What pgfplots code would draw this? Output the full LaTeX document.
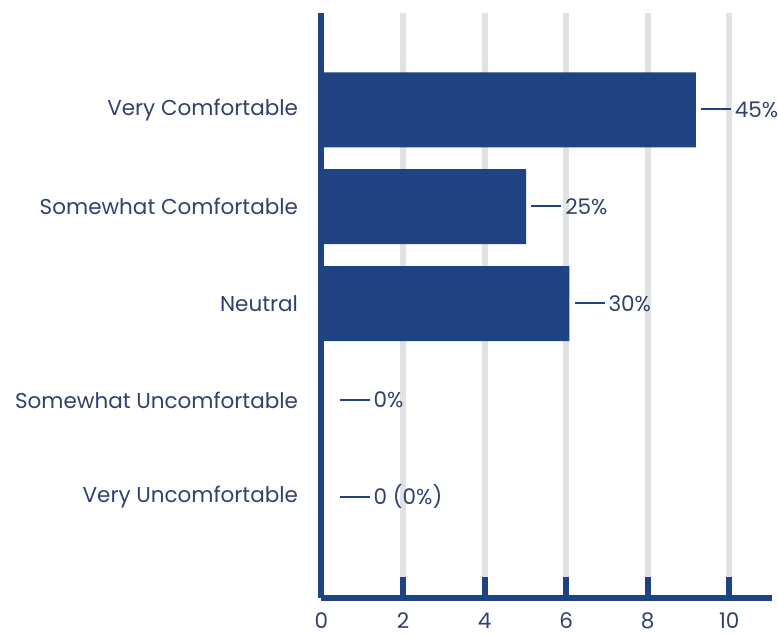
\documentclass[border=0pt]{standalone}
\usepackage{fontspec}
\setmainfont{Poppins}
\usepackage{pgfplots}
\usepackage{pgfplotstable}
\pgfplotsset{compat=1.18}
\definecolor{barblue}{HTML}{1F4283}
\definecolor{textblue}{HTML}{33406B}
\definecolor{gridgray}{HTML}{E2E2E2}

% responses per comfort level (x = count, y = category index)
\pgfplotstableread[col sep=comma]{
x,y,lab
9.18,4,45\%
5.02,3,25\%
6.08,2,30\%
}\answered
\pgfplotstableread[col sep=comma]{
x,y,lab
0,1,0\%
0,0,0 (0\%)
}\empty

\newcommand{\lblfont}{\fontsize{21.5}{25}\selectfont}
\newcommand{\dashlabel}{\textcolor{barblue}{\rule[0.33em]{30pt}{1.8pt}}\hspace{4pt}\pgfplotspointmeta}

\begin{document}
\begin{tikzpicture}
\useasboundingbox (-321.5pt,-37pt) rectangle (456.5pt,598pt);
\begin{axis}[
  at={(0,0)}, anchor=south west, scale only axis,
  width=450.5pt, height=585pt,
  xbar, bar width=0.775, bar shift=0pt,
  xmin=0, xmax=11.05, ymin=-1.04, ymax=5,
  axis x line*=bottom, axis y line*=left,
  axis line style={-, line width=6pt, draw=barblue},
  xtick={0,2,...,10}, ytick={0,...,4},
  yticklabels={Very Uncomfortable, Somewhat Uncomfortable, Neutral, Somewhat Comfortable, Very Comfortable},
  xmajorgrids, major grid style={line width=6pt, draw=gridgray},
  tick align=inside,
  major tick length=21pt,
  x tick style={line width=6pt, draw=barblue},
  y tick style={draw=none},
  tick label style={font=\lblfont, text=textblue},
  y tick label style={anchor=east, xshift=-20pt},
  x tick label style={anchor=base, inner sep=0pt, yshift=-30pt},
  /pgf/number format/assume math mode=true,
  point meta=explicit symbolic,
  every node near coord/.append style={anchor=base west, inner sep=0pt, font=\lblfont, text=textblue, yshift=-7.5pt},
]
\addplot[fill=barblue, draw=none, nodes near coords={\dashlabel},
  every node near coord/.append style={xshift=5pt}]
  table[x=x, y=y, meta=lab] {\answered};
\addplot[fill=barblue, draw=none, nodes near coords={\dashlabel},
  every node near coord/.append style={xshift=18pt}]
  table[x=x, y=y, meta=lab] {\empty};
\end{axis}
\end{tikzpicture}
\end{document}
